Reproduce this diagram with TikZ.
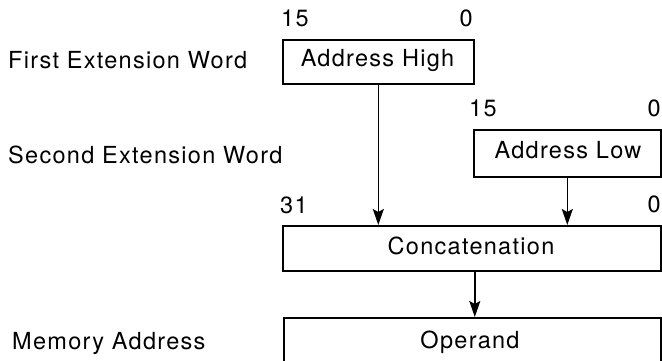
\documentclass[tikz,border=0pt]{standalone}
\usepackage{fontspec}
\setmainfont{TeX Gyre Heros}[LetterSpace=5.5]
\usetikzlibrary{arrows.meta}
\begin{document}
\begin{tikzpicture}[x=1pt,y=-1pt,
  every node/.style={inner sep=0pt,font=\fontsize{23.5}{27}\selectfont},
  regbox/.style={draw,line width=1.6pt,anchor=north west},
  lbl/.style={anchor=base west},
  rlbl/.style={anchor=base east},
  ctext/.style={anchor=base},
  flow/.style={line width=1.6pt,-{Stealth[length=16pt,width=11pt,inset=3pt]}}]
\useasboundingbox (0,0) rectangle (662,361);
\clip (0,0) rectangle (662,361);
% boxes
\node[regbox,minimum width=191pt,minimum height=44pt] (hi) at (282,39) {};
\node[ctext] at (377.5,67) (hit) {Address High};
\node[regbox,minimum width=187pt,minimum height=47pt] (lo) at (473,129) {};
\node[ctext] at (568,158) (lot) {Address Low};
\node[regbox,minimum width=378pt,minimum height=45pt] (cat) at (282,225) {};
\node[ctext] at (471,254) (catt) {Concatenation};
\node[regbox,minimum width=377pt,minimum height=50pt] (op) at (283,317) {};
\node[ctext] at (470,348) (opt) {Operand};
% bit numbers
\node[lbl] (h15) at (281,27) {15};
\node[rlbl] (h0) at (473,27) {0};
\node[lbl] (l15) at (469,117) {15};
\node[rlbl] (l0) at (661,117) {0};
\node[lbl] (c31) at (280,213) {31};
\node[rlbl] (c0) at (661,212) {0};
% side labels
\node[lbl] (fw) at (8,69) {First Extension Word};
\node[lbl] (sw) at (8,163) {Second Extension Word};
\node[lbl] (ma) at (12,349) {Memory Address};
% arrows
\draw[flow] (hi.south) -- (hi.south |- cat.north);
\draw[flow] (lo.south) -- (lo.south |- cat.north);
\draw[flow] ([xshift=3pt]cat.south) -- ([xshift=3pt]cat.south |- op.north);
\end{tikzpicture}
\end{document}
